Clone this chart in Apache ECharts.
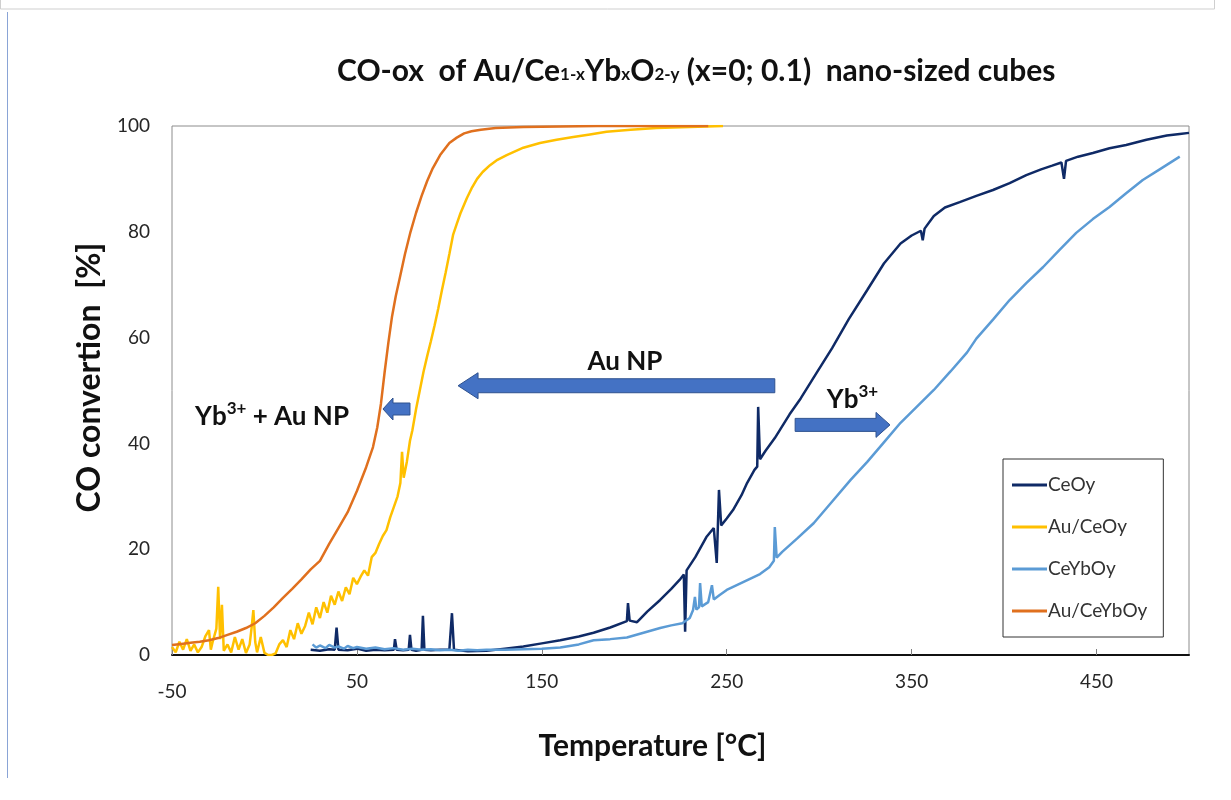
<!DOCTYPE html>
<html>
<head>
<meta charset="utf-8">
<title>CO-ox of Au/CeYbO nano-sized cubes</title>
<script src="https://cdn.jsdelivr.net/npm/echarts@6/dist/echarts.min.js"></script>
<style>
  html, body { margin: 0; padding: 0; background: #fff; }
  #chart { width: 1231px; height: 800px; }
</style>
</head>
<body>
<div id="chart"></div>
<script>
// [temperature °C, CO conversion %]
const ceOy = [
  [25, 1.0], [30, 0.8], [35, 1.1], [38, 1.0], [39, 5.2], [40, 1.0], [45, 0.9], [50, 1.2], [55, 0.8],
  [60, 1.0], [65, 0.9], [70, 1.0], [70.6, 3.0], [71.5, 1.0], [75, 0.9], [78, 1.0], [78.7, 3.8], [79.5, 1.0],
  [82, 0.8], [85, 1.0], [85.7, 7.4], [86.5, 1.0], [90, 0.9], [95, 1.0], [100, 1.0], [101.4, 7.9], [102.5, 1.0],
  [110, 0.7], [120, 0.8], [130, 1.2], [140, 1.6], [150, 2.2], [160, 2.8], [170, 3.5], [178, 4.2], [187, 5.2],
  [196, 6.4], [196.6, 9.8], [197.5, 6.5], [201.5, 6.2], [207, 8.2], [214, 10.4], [220, 12.5], [225, 14.4],
  [226.8, 15.2], [227.5, 4.4], [228.3, 16.0], [233, 18.5], [239, 22.3], [243, 24.0], [244.6, 17.4],
  [245.8, 31.2], [247, 24.5], [250, 25.8], [253.4, 27.4], [258, 30.2], [261, 32.5], [265, 35.0],
  [266.5, 35.6], [267, 46.9], [268, 37.0], [271, 38.6], [276, 41.0], [284, 45.5], [290, 48.5], [298, 53.0],
  [307, 58.0], [316, 63.5], [326, 69.0], [335, 74.0], [344, 77.8], [350, 79.3], [355, 80.2], [356, 78.4],
  [357, 80.6], [362, 83.0], [368, 84.6], [376, 85.6], [385, 86.8], [394, 87.9], [403, 89.2], [412, 90.7],
  [420, 91.8], [426, 92.5], [431, 93.1], [432.4, 90.0], [433.5, 93.4], [440, 94.2], [448, 94.9], [457, 95.8],
  [466, 96.4], [477, 97.4], [488, 98.2], [495, 98.5], [500, 98.7]
];
const auCeOy = [
  [-50, 1.5], [-48, 0.5], [-46, 2.5], [-44, 1.0], [-42, 3.0], [-40, 0.8], [-38, 2.0], [-36, 0.5], [-34, 1.5],
  [-32, 3.5], [-30, 4.7], [-29, 1.0], [-28, 2.5], [-26, 5.0], [-25, 12.9], [-24, 3.0], [-23, 9.5], [-22, 0.8],
  [-20, 2.0], [-18, 0.5], [-16, 3.4], [-14, 1.0], [-12, 3.0], [-10, 0.4], [-8, 2.0], [-7, 5.0], [-6, 8.5],
  [-5, 2.5], [-4, 0.5], [-2, 3.4], [0, 0.4], [2, 0.0], [4, 0.0], [6, 0.3], [8, 2.0], [10, 2.8], [12, 1.5],
  [14, 4.7], [16, 3.0], [18, 6.0], [20, 4.0], [22, 5.5], [24, 8.0], [26, 5.8], [28, 9.0], [30, 7.0],
  [32, 10.0], [34, 8.0], [36, 11.2], [38, 9.5], [40, 12.0], [42, 10.2], [44, 12.8], [46, 11.5], [48, 14.6],
  [50, 13.4], [52, 14.8], [54, 16.0], [56, 15.0], [58, 18.5], [60, 19.3], [62, 21.0], [64, 22.5], [66, 23.6],
  [68, 26.0], [70, 28.0], [72, 30.0], [73.5, 32.5], [74.4, 38.4], [75.3, 33.5], [77, 36.5], [78.7, 40.5],
  [80, 42.5], [82, 46.5], [84, 50.0], [86, 53.5], [88, 56.5], [90, 59.3], [92, 62.3], [94, 65.5], [96, 69.0],
  [98, 72.3], [100, 75.8], [102, 79.4], [104, 81.5], [106, 83.5], [109.5, 86.4], [112, 88.2], [115, 90.0],
  [118, 91.3], [122, 92.6], [126, 93.6], [131, 94.5], [140, 95.9], [149, 96.8], [158, 97.4], [167, 97.9],
  [176, 98.4], [185, 98.9], [198, 99.3], [212, 99.6], [230, 99.8], [248, 100]
];
const ceYbOy = [
  [26, 2.0], [28, 1.4], [30, 1.8], [33, 1.3], [35, 1.9], [38, 1.4], [40, 1.6], [43, 1.2], [45, 1.7], [48, 1.3],
  [50, 1.5], [55, 1.2], [60, 1.4], [65, 1.1], [70, 1.3], [75, 1.0], [80, 1.2], [85, 1.0], [90, 1.1], [95, 0.9],
  [100, 1.0], [105, 0.8], [110, 1.0], [115, 0.9], [120, 1.0], [130, 1.0], [140, 1.1], [150, 1.2], [160, 1.4],
  [170, 2.0], [178, 2.8], [187, 3.0], [196, 3.3], [205, 4.2], [214, 5.1], [220, 5.6], [226, 6.0], [230, 7.0],
  [231.8, 8.5], [232.8, 11.0], [233.6, 8.6], [235, 9.0], [235.6, 13.6], [236.5, 9.2], [240, 10.0], [242, 13.2],
  [243, 10.5], [246, 11.3], [250, 12.3], [256, 13.3], [262, 14.3], [268, 15.3], [273, 16.6], [275.5, 17.8],
  [276, 24.2], [277, 18.4], [280, 19.5], [288, 22.0], [297, 24.9], [306, 28.6], [317, 33.1], [326, 36.5],
  [335, 40.2], [344, 43.9], [353, 47.0], [362, 50.1], [371, 53.6], [380, 57.2], [385, 59.8], [394, 63.4],
  [403, 67.1], [412, 70.3], [421, 73.3], [430, 76.6], [439, 79.8], [448, 82.4], [457, 84.7], [466, 87.3],
  [475, 89.8], [485, 92.0], [495, 94.2]
];
const auCeYbOy = [
  [-50, 1.9], [-45, 2.1], [-40, 2.3], [-35, 2.5], [-30, 2.8], [-25, 3.2], [-20, 3.8], [-15, 4.4], [-10, 5.1],
  [-5, 6.0], [0, 7.4], [5, 9.0], [10, 10.8], [15, 12.5], [20, 14.3], [25, 16.2], [30, 17.8], [35, 21.0],
  [40, 24.0], [45, 27.0], [50, 31.0], [55, 35.5], [58.7, 39.3], [61, 43.0], [63, 47.5], [65, 53.5], [67, 59.0],
  [69, 64.0], [71, 67.8], [73, 71.0], [76, 75.8], [79, 80.0], [82, 83.6], [85, 86.8], [88, 89.6], [91, 92.0],
  [95, 94.5], [100, 96.8], [104, 97.8], [108, 98.6], [112, 99.0], [117, 99.3], [125, 99.6], [140, 99.8],
  [160, 99.9], [180, 100], [200, 100], [220, 100], [240, 100]
];

const seriesNames = ['CeOy', 'Au/CeOy', 'CeYbOy', 'Au/CeYbOy'];
const seriesData = [ceOy, auCeOy, ceYbOy, auCeYbOy];
const seriesColors = ['#0f2a66', '#ffc000', '#5b9bd5', '#e0701e'];

// annotation arrows: [tail temp, tip temp, conversion]
const arrowAuNP = [276, 104.7, 50.9];
const arrowYb = [287, 338.3, 43.5];
const arrowBoth = [78.7, 64.1, 46.5];
// annotation labels: [temp, conversion]
const labelAuNP = [195, 56.0];
const labelYb = [318, 48.8];
const labelBoth = [4.1, 45.6];

const FONT = 'Lato, "Open Sans", sans-serif';

let chart = echarts.init(document.getElementById('chart'));

const option = {
  animation: false,
  backgroundColor: '#fff',
  title: {
    text: '{m|CO-ox  of Au/Ce}{s|1-x}{m|Yb}{s|x}{m|O}{s|2-y}{m| (x=0; 0.1)  nano-sized cubes}',
    left: 332,
    top: 48,
    textStyle: {
      rich: {
        m: { fontFamily: FONT, fontWeight: 'bold', fontSize: 30, color: '#111', lineHeight: 36, verticalAlign: 'middle' },
        s: { fontFamily: FONT, fontWeight: 'bold', fontSize: 17, color: '#111', lineHeight: 36, verticalAlign: 'bottom', padding: [0, 0, 6, 0] }
      }
    }
  },
  legend: {
    orient: 'vertical',
    left: 1003,
    top: 459,
    padding: [15, 16, 15, 9],
    itemGap: 20,
    itemWidth: 35,
    itemHeight: 3,
    icon: 'rect',
    backgroundColor: '#fff',
    borderColor: '#333',
    borderWidth: 1,
    borderRadius: 0,
    data: seriesNames,
    textStyle: { fontFamily: FONT, fontSize: 19, color: '#333', lineHeight: 22, padding: [0, 0, 0, -4] }
  },
  grid: {
    left: 172,
    top: 126,
    right: 42,
    bottom: 145,
    show: true,
    borderColor: '#8c8c8c',
    borderWidth: 1,
    containLabel: false
  },
  xAxis: {
    type: 'value',
    min: -50,
    max: 500,
    interval: 100,
    name: 'Temperature [°C]',
    nameLocation: 'middle',
    nameGap: 76,
    nameTextStyle: { fontFamily: FONT, fontWeight: 'bold', fontSize: 30, color: '#111', padding: [0, 56, 0, 0] },
    axisLine: { onZero: false, lineStyle: { color: '#111', width: 2 } },
    axisTick: { inside: true, length: 6, lineStyle: { color: '#7f7f7f' } },
    splitLine: { show: false },
    axisLabel: {
      margin: 17,
      showMaxLabel: false,
      fontFamily: FONT,
      fontSize: 19,
      color: '#262626',
      formatter: function (v) { return v === -50 ? '{low|-50}' : String(v); },
      rich: { low: { fontFamily: FONT, fontSize: 19, color: '#262626', padding: [10, 0, 0, 0] } }
    }
  },
  yAxis: {
    type: 'value',
    min: 0,
    max: 100,
    interval: 20,
    name: 'CO convertion  [%]',
    nameLocation: 'middle',
    nameGap: 62,
    nameTextStyle: { fontFamily: FONT, fontWeight: 'bold', fontSize: 32, color: '#111', padding: [0, 0, 0, 26] },
    axisLine: { show: false },
    axisTick: { show: false },
    splitLine: { show: false },
    axisLabel: { margin: 22, fontFamily: FONT, fontSize: 19, color: '#262626' }
  },
  series: seriesNames.map(function (name, i) {
    return {
      name: name,
      type: 'line',
      data: seriesData[i],
      showSymbol: false,
      symbol: 'none',
      lineStyle: { color: seriesColors[i], width: 2.5 },
      itemStyle: { color: seriesColors[i] },
      z: 2 + i
    };
  })
};

chart.setOption(option);

// arrows and labels placed from data coordinates
function toPx(x, y) {
  return chart.convertToPixel({ gridIndex: 0 }, [x, y]);
}
function arrowShape(a, h, H, L) {
  const tail = toPx(a[0], a[2]);
  const tip = toPx(a[1], a[2]);
  const dir = tip[0] < tail[0] ? 1 : -1;
  const bx = tip[0] + dir * L;
  const y = tip[1];
  return {
    type: 'polygon',
    z: 20,
    shape: {
      points: [
        [tip[0], y], [bx, y - H], [bx, y - h], [tail[0], y - h],
        [tail[0], y + h], [bx, y + h], [bx, y + H]
      ]
    },
    style: { fill: '#4472c4', stroke: '#2f528f', lineWidth: 1 }
  };
}
function labelText(pos, text) {
  const p = toPx(pos[0], pos[1]);
  return {
    type: 'text',
    z: 20,
    x: p[0],
    y: p[1],
    style: {
      text: text,
      align: 'center',
      verticalAlign: 'middle',
      rich: {
        b: { fontFamily: FONT, fontWeight: 'bold', fontSize: 26, fill: '#111', lineHeight: 32, verticalAlign: 'bottom' },
        u: { fontFamily: FONT, fontWeight: 'bold', fontSize: 17, fill: '#111', lineHeight: 32, verticalAlign: 'top', padding: [2, 0, 0, 0] }
      }
    }
  };
}

chart.setOption({
  graphic: [
    // screenshot frame
    { type: 'rect', shape: { x: 0.5, y: -4, width: 1214, height: 13 }, style: { fill: '#fff', stroke: '#cfcfcf', lineWidth: 1 } },
    { type: 'line', shape: { x1: 7.5, y1: 12, x2: 7.5, y2: 778 }, style: { stroke: '#8aa4d6', lineWidth: 1 } },
    arrowShape(arrowAuNP, 7, 13, 20),
    arrowShape(arrowYb, 6.5, 12.5, 14),
    arrowShape(arrowBoth, 6, 11, 10),
    labelText(labelAuNP, '{b|Au NP}'),
    labelText(labelYb, '{b|Yb}{u|3+}'),
    labelText(labelBoth, '{b|Yb}{u|3+}{b| + Au NP}')
  ]
});
</script>
</body>
</html>
